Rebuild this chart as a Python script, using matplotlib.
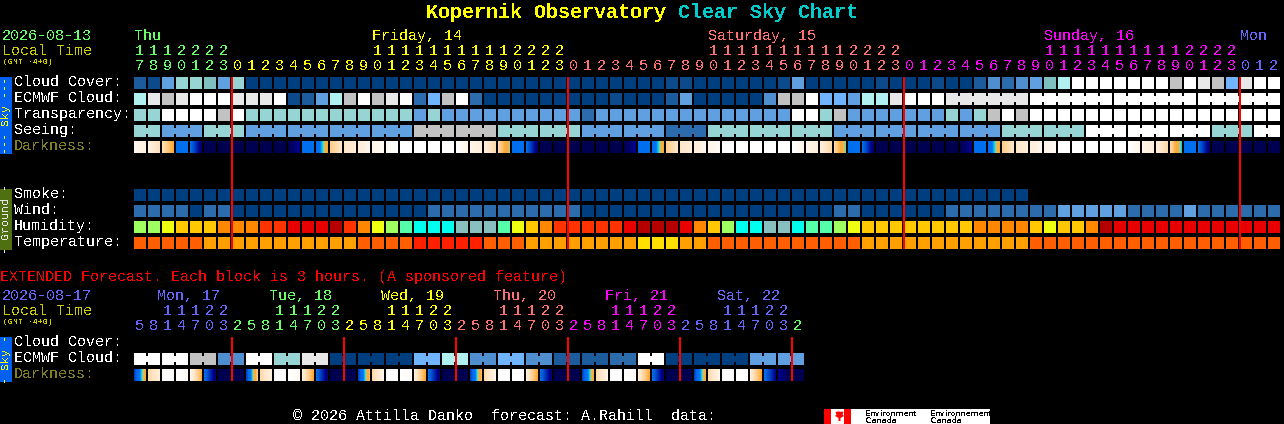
import numpy as np
import matplotlib
matplotlib.use("Agg")
import matplotlib.pyplot as plt
from matplotlib.colors import LinearSegmentedColormap

plt.rcParams['font.family'] = ['Liberation Mono', 'DejaVu Sans Mono']
plt.rcParams['text.antialiased'] = False
plt.rcParams['text.hinting'] = 'native'
plt.rcParams['text.hinting_factor'] = 1

# ---- data ----
cloud_cover = [2,1,5,8,8,7,5,8,
    0,0,0,0,0,0,0,0,0,0,0,0,0,0,0,0,0,0,0,0,0,0,0,0,0,0,0,0,0,0,1,1,0,0,0,0,0,0,1,
    5,0,0,0,0,
    0,1,0,0,0,1,0,0,
    2,4,3,4,5,7,9,
    12,12,12,12,12,12,12,10,12,11,10,6,11,12,12]
ecmwf_cloud = [9,11,10,11,12,12,12,11,11,11,12,
    1,2,5,9,10,12,10,11,12,3,
    6,10,12,3,
    0,0,0,0,0,0,0,0,0,1,0,0,0,
    2,5,0,0,0,0,0,4,10,10,12,6,6,5,
    9,9,11,12,12,12,11,11,11,11,11,11,
    12,12,12,12,12,12,12,12,12,12,12,12,12,12,12,12,12,12]
transparency = [8,8,12,12,12,12,10,12,
    8,8,8,8,8,8,8,8,8,8,8,8,5,8,
    5,5,5,5,5,5,5,5,5,5,3,
    5,5,5,5,5,5,5,5,5,5,5,5,5,5,
    12,12,8,10,
    5,5,5,5,5,5,5,8,5,8,10,12,10,
    12,12,12,12,12,12,12,12,12,12,12,12,12,12,12,12,12,12]
seeing = [8,8,5,5,5,8,8,8,
    5,5,5,5,5,5,5,5,5,5,5,5,
    10,10,10,10,10,10,
    8,8,8,8,8,8,
    5,5,5,5,5,5,
    3,3,3,
    8,8,8,8,8,8,8,8,8,
    5,5,5,5,5,5,5,5,5,5,5,5,
    8,8,8,8,8,8,
    12,12,12,12,12,12,12,12,12,
    8,8,8,12,12]
seeing_groups = [2,3,3,3,3,3,3,3,3,3,3,3,3,3,3,3,3,3,3,3,3,3,3,3,3,3,3,2]
ecmwf_groups = [1]*58 + [6,6,6,6]

dark_start = [0.8,1.3,2.3,7,7,10,10,10,10,10,10,10,7,7,3,2,1.5,1,0.5,0,0,0,0,
    0,1,1.5,2.5,7,7,10,10,10,10,10,10,10,7,7,3,2,1.5,1,0,0,0,0,0,
    0,1,1.5,2.5,7,7,10,10,10,10,10,10,10,7,7,3,2,1.5,1,0,0,0,0,0,
    0,1,1.5,2.5,7,7,10,10,10,10,10]
dark_end = [1.3,2.2,4,7,9.5,10,10,10,10,10,10,9,7,4,2,1.5,1,0.5,0,0,0,0,0,
    1,1.5,2.5,4.9,7,9.5,10,10,10,10,10,10,9,7,4,2,1.5,1,0.5,0,0,0,0,0,
    1,1.5,2.5,5.1,7,9.5,10,10,10,10,10,10,9,7,4,2,1.5,1,0.5,0,0,0,0,0,
    1,1.5,2.5,5.4,7,9.5,10,10,10,10,10]

smoke = [0,0,0,0,0,0,0,0,0,0,0,0,0,0,0,0,0,0,0,0,0,0,0,0,0,0,0,0,0,0,0,0,
         0,0,0,0,0,0,0,0,0,0,0,0,0,0,0,0,0,0,0,0,0,0,0,0,0,0,0,0,0,0,0,0]
wind = [3,3,3,3,0,3,3,
    0,0,0,0,0,0,0,0,0,0,0,0,0,0,
    3,3,3,3,3,3,3,3,3,3,3,
    0,0,0,0,0,0,0,0,0,0,0,0,0,0,0,0,0,0,
    3,3,0,0,0,0,0,0,
    3,3,3,3,3,3,3,3,5,5,5,5,5,3,3,3,3,5,3,3,3,3,3,3]
humidity = [6,6,5,4,4,4,3,3,3,2,2,1,1,1,0,2,3,5,6,7,8,
    8,8,9,9,9,7,5,4,3,2,2,2,2,2,1,0,0,0,1,3,4,6,8,8,9,9,8,7,7,6,5,
    4,4,4,4,4,4,4,4,3,3,3,3,4,5,4,4,3,0,
    1,1,1,1,1,1,1,1,1,1,1,1]
temperature = [1,1,1,1,1,2,2,2,2,2,2,2,2,2,2,2,1,1,1,1,
    0,0,0,0,0,1,1,1,2,2,2,2,2,2,2,2,3,3,3,2,2,
    1,1,1,1,1,1,1,1,1,1,1,
    2,2,2,2,2,2,2,2,2,2,2,2,
    1,1,1,1,1,1,1,1,1,1,1,1,1,1,1,1,1,1]

ext_ecmwf = [12,12,12,12,10,10,4,4,12,12,8,8,11,11,0,0,0,0,0,0,6,6,9,9,
    4,4,6,6,4,4,2,2,2,2,3,3,12,12,0,0,0,0,0,0,5,5,5,5]
ext_groups = [2]*24
ext_dark_start = [8,2.5,0.2,0,1,7,10,10, 8,2.5,0,0,1.5,7,10,10, 8,2.5,0,0,1.5,7,10,10,
                  8,2.5,0,0,1.5,7,10,10, 8,2.5,0,0,1.5,7,10,10, 8,2.5,0,0,1.5,7,9,10]
ext_dark_end = [4,1.5,0,0.6,3.8,9.5,10,10, 3,1.3,0,0.6,4,9.5,10,10, 3.5,1,0,0.5,4,9.5,10,10,
                3.5,1,0,0,4,9.5,10,10, 4,1,0,0.5,4,9.5,10,10, 4,1,0,0,4,9,10,10]

tens_digits = {0:"1112222", 17:"11111111112222", 41:"11111111112222", 65:"11111111112222"}
unit_digits = ("7890123" "012345678901234567890123" "012345678901234567890123"
               "012345678901234567890123" "012")
ext_tens = {2:"11122", 10:"11122", 18:"11122", 26:"11122", 34:"11122", 42:"11122"}
ext_units = "5814703" "25814703" "25814703" "25814703" "25814703" "25814703" "2"

main_days = [("Thu", 0), ("Friday, 14", 17), ("Saturday, 15", 41), ("Sunday, 16", 65), ("Mon", 79)]
ext_days = ["Mon, 17", "Tue, 18", "Wed, 19", "Thu, 20", "Fri, 21", "Sat, 22"]
main_midnights = [7, 31, 55, 79]
ext_midnights = [7, 15, 23, 31, 39, 47]

# ---- styles ----
CLOUD = ['#003F7F','#0D4A8C','#1C5C9C','#2C6CAC','#4F8FCF','#60A0E0','#70B4FF',
         '#7FBFBF','#97D5D5','#B0F0F0','#C2C2C2','#E8E8E8','#FFFFFF']
HUMID = ['#B50000','#E80000','#FF3300','#FF8800','#FFC800','#EEFF10','#A0FF60',
         '#55FFAA','#00FFEE','#88BFBF']
TEMP = ['#FF2000','#FF5F00','#FFA000','#FFE000']
DARK = LinearSegmentedColormap.from_list('dark', [
    (0.0,'#FFFFFF'),(0.1,'#FFF5E8'),(0.2,'#FFE6C8'),(0.3,'#FFCC88'),(0.4,'#FFA830'),
    (0.48,'#E0B860'),(0.51,'#70D8A0'),(0.55,'#00C8FF'),(0.60,'#0070F0'),(0.70,'#0070F0'),
    (0.8,'#0040C0'),(0.9,'#000090'),(1.0,'#000050')])
GREEN, YEL, PINK, MAG, PERI = '#66FF66', '#FFFF00', '#FF7070', '#FF00FF', '#6666FF'
OLIVE, RED = '#808020', '#FF0000'
LOCAL = '#CCCC00'

X0, STEP, W, H = 134, 14, 12, 12
FS = 10.8

fig = plt.figure(figsize=(12.84, 4.24), dpi=100, facecolor='black')
ax = fig.add_axes([0, 0, 1, 1], facecolor='black')
ax.axis('off')

def cx(i):
    return X0 + STEP * np.asarray(i)

def row(values, palette, top, groups=None):
    idx = np.arange(len(values))
    cols = [palette[v] for v in values]
    ax.bar(cx(idx), H, width=W, bottom=top, align='edge', color=cols, linewidth=0, antialiased=False)
    if groups:
        start = 0
        for g in groups:
            for j in range(start, start + g - 1):
                ax.bar(cx(j) + W, 6, width=STEP - W, bottom=top + 3, align='edge',
                       color=palette[values[j]], linewidth=0, antialiased=False)
            start += g

def dark_row(starts, ends, top):
    for i, (s, e) in enumerate(zip(starts, ends)):
        x = cx(i)
        ax.imshow(np.linspace(s, e, W)[None, :], cmap=DARK, vmin=0, vmax=10, aspect='auto',
                  extent=(x, x + W, top + H, top), interpolation='nearest', zorder=2)

def label(x, base, s, color='white', fs=FS, **kw):
    ax.text(x, base, s, color=color, fontsize=fs, va='baseline', **kw)

def day_color(i, bounds, colors):
    for b, c in zip(bounds, colors):
        if i < b:
            return c
    return colors[-1]

# title
ax.text(426, 18, "Kopernik Observatory", color=YEL, fontsize=14.4, fontweight='bold', va='baseline')
ax.text(678, 18, "Clear Sky Chart", color='#00CCCC', fontsize=14.4, fontweight='bold', va='baseline')

# main header
label(2, 40, "2026-08-13", GREEN)
label(2, 55, "Local Time", LOCAL)
ax.text(3, 64, "(GMT -4+0)", color=LOCAL, fontsize=6, va='baseline')
mcols = [GREEN, YEL, PINK, MAG, PERI]
mbounds = [7, 31, 55, 79, 10**6]
for (name, c), col in zip(main_days, mcols):
    label(cx(c), 40, name, col)
for c0, digs in tens_digits.items():
    for k, d in enumerate(digs):
        label(cx(c0 + k) + 5.5, 55, d, day_color(c0 + k, mbounds, mcols), ha='center')
for i, d in enumerate(unit_digits):
    label(cx(i) + 5.5, 70, d, day_color(i, mbounds, mcols), ha='center')

# main rows
row(cloud_cover, CLOUD, 77)
row(ecmwf_cloud, CLOUD, 93, ecmwf_groups)
row(transparency, CLOUD, 109)
row(seeing, CLOUD, 125, seeing_groups)
dark_row(dark_start, dark_end, 141)
row(smoke, CLOUD, 189)
row(wind, CLOUD, 205)
row(humidity, HUMID, 221)
row(temperature, TEMP, 237)

for name, top, col in [("Cloud Cover:", 77, 'white'), ("ECMWF Cloud:", 93, 'white'),
                       ("Transparency:", 109, 'white'), ("Seeing:", 125, 'white'),
                       ("Darkness:", 141, OLIVE), ("Smoke:", 189, 'white'), ("Wind:", 205, 'white'),
                       ("Humidity:", 221, 'white'), ("Temperature:", 237, 'white')]:
    label(14, top + 9, name, col)

# side bars
ax.bar(0, 77, width=12, bottom=77, align='edge', color='#0060F0', linewidth=0)
ax.bar(0, 61, width=12, bottom=189, align='edge', color='#4F6F10', linewidth=0)
ax.bar(0, 45, width=12, bottom=337, align='edge', color='#0060F0', linewidth=0)
ax.text(6, 115.5, "--- Sky ---", color=YEL, fontsize=8, rotation=90, ha='center', va='center')
ax.text(6, 219.5, "- Ground -", color='#E8E8E8', fontsize=8, rotation=90, ha='center', va='center')
ax.text(6, 359.5, "- Sky -", color=YEL, fontsize=8, rotation=90, ha='center', va='center')

# midnight lines
for m in main_midnights:
    ax.bar(cx(m) - 1, 172, width=2, bottom=77, align='edge', color=RED, linewidth=0, zorder=5)

# extended
label(0, 281, "EXTENDED Forecast. Each block is 3 hours. (A sponsored feature)", RED)
label(2, 300, "2026-08-17", PERI)
label(2, 315, "Local Time", LOCAL)
ax.text(3, 324, "(GMT -4+0)", color=LOCAL, fontsize=6, va='baseline')
ecols = [PERI, GREEN, YEL, PINK, MAG, PERI, GREEN]
ebounds = [7, 15, 23, 31, 39, 47, 10**6]
for k, (name, col) in enumerate(zip(ext_days, ecols)):
    label(157 + 112 * k, 300, name, col)
for c0, digs in ext_tens.items():
    for k, d in enumerate(digs):
        label(cx(c0 + k) + 5, 315, d, day_color(c0 + k, ebounds, ecols), ha='center')
for i, d in enumerate(ext_units):
    label(cx(i) + 5.5, 330, d, day_color(i, ebounds, ecols), ha='center')

label(14, 346, "Cloud Cover:")
label(14, 362, "ECMWF Cloud:")
label(14, 378, "Darkness:", OLIVE)
row(ext_ecmwf, CLOUD, 353, ext_groups)
dark_row(ext_dark_start, ext_dark_end, 369)
for m in ext_midnights:
    ax.bar(cx(m) - 1, 44, width=2, bottom=337, align='edge', color=RED, linewidth=0, zorder=5)

# footer
label(293, 420, "\u00a9 2026 Attilla Danko  forecast: A.Rahill  data:")
ax.bar(824, 15, width=166, bottom=409, align='edge', color='white', linewidth=0)
ax.bar(824, 15, width=7, bottom=409, align='edge', color='#FF0000', linewidth=0)
ax.bar(844, 15, width=7, bottom=409, align='edge', color='#FF0000', linewidth=0)
leaf_x = [837.5, 839.5, 841, 843, 842, 843.5, 840, 840, 838, 838, 834.5, 836, 835, 837, 838.5]
ax.fill([v + 0.5 for v in leaf_x], [410, 412, 411.5, 412, 414.5, 416, 418, 421, 421, 418, 416, 414.5, 412, 411.5, 412],
        color='#FF0000', linewidth=0, zorder=3)
for x, a in [(865, "Environment"), (930, "Environnement")]:
    ax.text(x, 415.5, a, color='black', fontsize=5.8, family='DejaVu Sans', va='baseline')
    ax.text(x, 423, "Canada", color='black', fontsize=5.8, family='DejaVu Sans', va='baseline')

ax.set_xlim(0, 1284)
ax.set_ylim(424, 0)

assert len(cloud_cover) == 82 and len(ecmwf_cloud) == 82 and len(transparency) == 82 and len(seeing) == 82
assert len(dark_start) == 82 and len(dark_end) == 82
assert len(smoke) == 64 and len(wind) == 82 and len(humidity) == 82 and len(temperature) == 82
assert len(ext_ecmwf) == 48 and len(ext_dark_start) == 48 and len(ext_dark_end) == 48
assert sum(seeing_groups) == 82 and sum(ecmwf_groups) == 82
assert len(unit_digits) == 82 and len(ext_units) == 48
fig.savefig("out.png", dpi=100, facecolor='black')
